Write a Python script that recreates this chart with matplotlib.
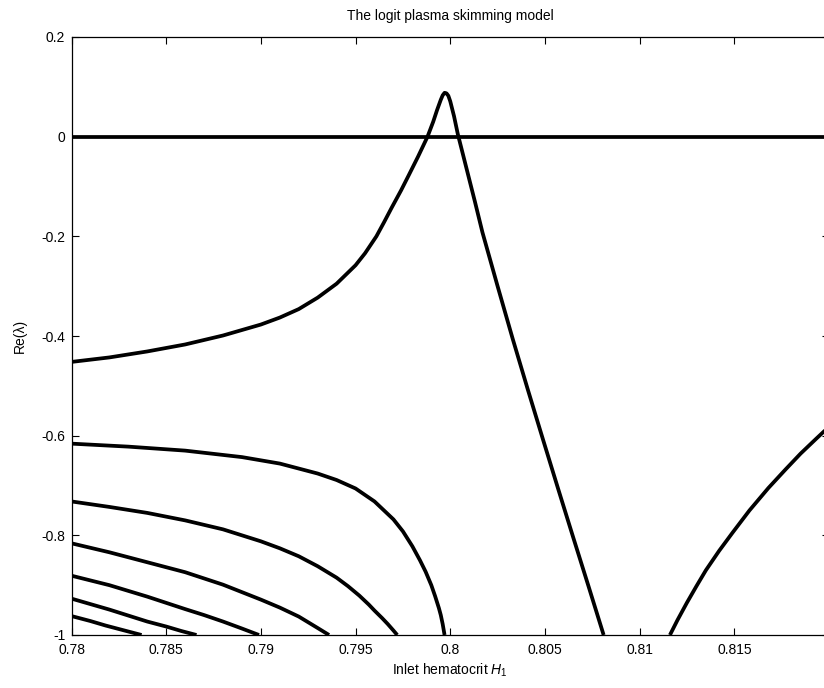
import matplotlib
matplotlib.use("Agg")
import matplotlib.pyplot as plt

plt.rcParams['font.family'] = ['Liberation Sans', 'DejaVu Sans']
plt.rcParams['mathtext.fontset'] = 'custom'
plt.rcParams['mathtext.rm'] = 'Liberation Sans'
plt.rcParams['mathtext.it'] = 'Liberation Sans:italic'

# Zero eigenvalue branch
zero_x = [0.78, 0.82]
zero_y = [0.0, 0.0]

# Branch that crosses zero near H1 = 0.8
peak_x = [0.780, 0.782, 0.784, 0.786, 0.788, 0.790, 0.791, 0.792, 0.793, 0.794,
          0.795, 0.7955, 0.7961, 0.7965, 0.7969, 0.7974, 0.7978, 0.7983, 0.7988,
          0.7991, 0.7993, 0.7995, 0.7996, 0.7997, 0.7998, 0.7999, 0.8000, 0.8002,
          0.8004, 0.8007, 0.8010, 0.8013, 0.8017, 0.8025, 0.8033, 0.8041, 0.8049,
          0.8057, 0.8065, 0.8073, 0.8081]
peak_y = [-0.452, -0.443, -0.431, -0.417, -0.399, -0.377, -0.363, -0.346, -0.323, -0.295,
          -0.258, -0.234, -0.200, -0.172, -0.143, -0.108, -0.078, -0.040, 0.000,
          0.030, 0.053, 0.074, 0.083, 0.088, 0.087, 0.082, 0.071, 0.041,
          0.005, -0.040, -0.085, -0.130, -0.192, -0.300, -0.406, -0.508, -0.608,
          -0.707, -0.805, -0.902, -1.000]

# Branch re-entering from below on the right
right_x = [0.8116, 0.8120, 0.8125, 0.8130, 0.8135, 0.8142, 0.8149, 0.8158, 0.8168,
           0.8177, 0.8185, 0.8193, 0.8200]
right_y = [-1.000, -0.970, -0.935, -0.902, -0.870, -0.831, -0.795, -0.750, -0.705,
           -0.668, -0.636, -0.607, -0.582]

# Lower eigenvalue branches
a_x = [0.780, 0.783, 0.786, 0.789, 0.791, 0.793, 0.794, 0.795, 0.796, 0.797,
       0.7975, 0.798, 0.7984, 0.7987, 0.7990, 0.7992, 0.7994, 0.7995, 0.7996, 0.7997]
a_y = [-0.616, -0.622, -0.630, -0.643, -0.656, -0.676, -0.689, -0.706, -0.732, -0.768,
       -0.792, -0.822, -0.850, -0.873, -0.900, -0.922, -0.946, -0.960, -0.978, -1.000]

b_x = [0.780, 0.782, 0.784, 0.786, 0.788, 0.790, 0.791, 0.792, 0.793, 0.794,
       0.7946, 0.7952, 0.7957, 0.796, 0.7964, 0.7967, 0.7970, 0.7972]
b_y = [-0.732, -0.743, -0.755, -0.770, -0.788, -0.812, -0.826, -0.842, -0.862, -0.885,
       -0.902, -0.921, -0.939, -0.951, -0.966, -0.978, -0.991, -1.000]

c_x = [0.780, 0.782, 0.7847, 0.786, 0.788, 0.790, 0.791, 0.792, 0.793, 0.7936]
c_y = [-0.816, -0.834, -0.861, -0.874, -0.899, -0.929, -0.945, -0.963, -0.986, -1.000]

d_x = [0.780, 0.782, 0.784, 0.786, 0.787, 0.788, 0.789, 0.7899]
d_y = [-0.881, -0.900, -0.923, -0.948, -0.960, -0.973, -0.987, -1.000]

e_x = [0.780, 0.781, 0.782, 0.783, 0.784, 0.785, 0.7858, 0.7866]
e_y = [-0.927, -0.938, -0.949, -0.961, -0.973, -0.983, -0.992, -1.000]

f_x = [0.780, 0.781, 0.7818, 0.7828, 0.7837]
f_y = [-0.962, -0.972, -0.981, -0.991, -1.000]

x_ticks = [0.78, 0.785, 0.79, 0.795, 0.8, 0.805, 0.81, 0.815]
x_labels = ['0.78', '0.785', '0.79', '0.795', '0.8', '0.805', '0.81', '0.815']
y_ticks = [-1, -0.8, -0.6, -0.4, -0.2, 0, 0.2]
y_labels = ['-1', '-0.8', '-0.6', '-0.4', '-0.2', '0', '0.2']

W, H = 824, 688
left, right, top, bottom = 71.5, 829, 37, 635

fig = plt.figure(figsize=(W / 100, H / 100), dpi=100)
ax = fig.add_axes([left / W, 1 - bottom / H, (right - left) / W, (bottom - top) / H])

lw = 2.7
for xs, ys in [(zero_x, zero_y), (peak_x, peak_y), (right_x, right_y),
               (a_x, a_y), (b_x, b_y), (c_x, c_y), (d_x, d_y), (e_x, e_y), (f_x, f_y)]:
    ax.plot(xs, ys, color='black', lw=lw, solid_capstyle='butt', solid_joinstyle='round')

ax.set_xlim(0.78, 0.82)
ax.set_ylim(-1, 0.2)
ax.set_xticks(x_ticks)
ax.set_xticklabels(x_labels)
ax.set_yticks(y_ticks)
ax.set_yticklabels(y_labels)
ax.tick_params(direction='in', length=5, width=0.8, top=True, right=True,
               labelsize=10)
ax.tick_params(axis='x', pad=6)
ax.tick_params(axis='y', pad=4.5)
for s in ax.spines.values():
    s.set_linewidth(0.9)

ax.set_title('The logit plasma skimming model', fontsize=10, pad=12)
ax.set_xlabel('Inlet hematocrit $H_1$', fontsize=10, labelpad=3)
ax.set_ylabel('Re(\u03bb)', fontsize=10, labelpad=10)

fig.savefig('out.png', dpi=100)
